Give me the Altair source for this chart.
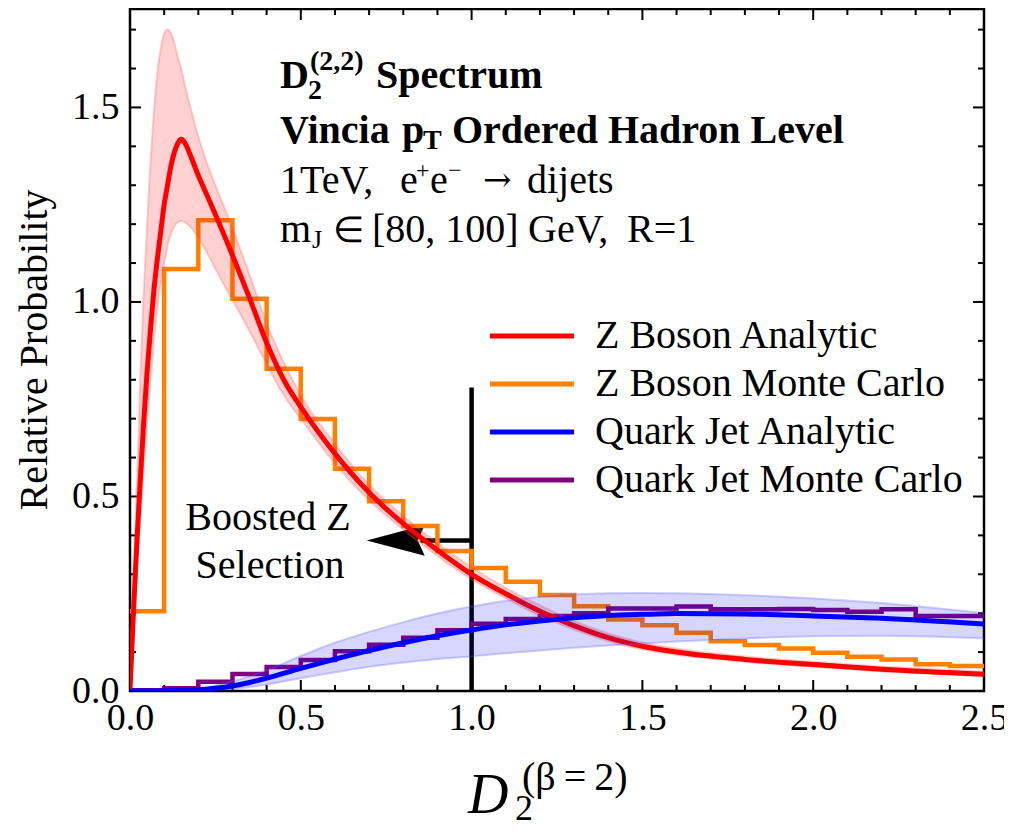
import altair as alt
import pandas as pd

# ---------------- data ----------------
bin_edges = [round(0.1 * i, 1) for i in range(26)]
z_mc = [0.205, 1.085, 1.21, 1.008, 0.828, 0.699, 0.571, 0.488, 0.424, 0.360,
        0.316, 0.281, 0.247, 0.218, 0.184, 0.169, 0.150, 0.128, 0.118, 0.109,
        0.098, 0.088, 0.081, 0.069, 0.064]
q_mc = [0.002, 0.007, 0.024, 0.044, 0.062, 0.080, 0.102, 0.119, 0.137, 0.156,
        0.173, 0.185, 0.193, 0.200, 0.212, 0.212, 0.217, 0.210, 0.210, 0.211,
        0.208, 0.204, 0.210, 0.193, 0.193]

red_x = [0, 0.01, 0.02, 0.03, 0.04, 0.05, 0.06, 0.07, 0.08, 0.09, 0.10, 0.11,
         0.12, 0.13, 0.14, 0.15, 0.16, 0.18, 0.20, 0.22, 0.25, 0.30, 0.35, 0.40,
         0.45, 0.50, 0.60, 0.70, 0.80, 0.90, 1.00, 1.10, 1.20, 1.30, 1.40, 1.50,
         1.60, 1.80, 2.00, 2.20, 2.50]
red_y = [0, 0.20, 0.38, 0.54, 0.69, 0.82, 0.93, 1.03, 1.11, 1.18, 1.25, 1.30,
         1.35, 1.385, 1.408, 1.418, 1.41, 1.37, 1.325, 1.285, 1.225, 1.12, 1.01, 0.895,
         0.80, 0.73, 0.61, 0.51, 0.43, 0.362, 0.30, 0.25, 0.205, 0.168, 0.137, 0.115,
         0.100, 0.081, 0.068, 0.056, 0.043]
red_hi = [0, 0.25, 0.52, 0.80, 1.02, 1.20, 1.36, 1.49, 1.59, 1.65, 1.69, 1.70,
          1.69, 1.665, 1.63, 1.60, 1.56, 1.49, 1.425, 1.37, 1.30, 1.19, 1.07, 0.945,
          0.845, 0.76, 0.635, 0.53, 0.45, 0.38, 0.318, 0.265, 0.22, 0.18, 0.148, 0.125,
          0.109, 0.089, 0.075, 0.063, 0.05]
red_lo = [0, 0.15, 0.30, 0.44, 0.57, 0.69, 0.80, 0.90, 0.98, 1.05, 1.10, 1.145,
          1.175, 1.195, 1.205, 1.208, 1.205, 1.19, 1.165, 1.135, 1.085, 1.005, 0.925, 0.84,
          0.76, 0.70, 0.585, 0.49, 0.415, 0.347, 0.287, 0.238, 0.193, 0.158, 0.128, 0.107,
          0.093, 0.075, 0.062, 0.051, 0.038]

blue_x = [0, 0.1, 0.2, 0.25, 0.3, 0.35, 0.4, 0.5, 0.6, 0.7, 0.8, 0.9, 1.0, 1.1,
          1.2, 1.3, 1.4, 1.5, 1.6, 1.8, 2.0, 2.2, 2.5]
blue_y = [0, 0.0005, 0.003, 0.007, 0.013, 0.022, 0.033, 0.058, 0.082, 0.104, 0.124,
          0.142, 0.157, 0.170, 0.180, 0.188, 0.194, 0.197, 0.199, 0.198, 0.193, 0.187, 0.172]
blue_hi = [0, 0.001, 0.007, 0.014, 0.025, 0.038, 0.053, 0.09, 0.124, 0.152, 0.177,
           0.199, 0.217, 0.232, 0.242, 0.248, 0.251, 0.252, 0.251, 0.246, 0.238, 0.226, 0.2]
blue_lo = [0, 0, 0.0005, 0.002, 0.005, 0.01, 0.017, 0.033, 0.048, 0.062, 0.073,
           0.082, 0.089, 0.097, 0.104, 0.111, 0.117, 0.122, 0.127, 0.135, 0.141, 0.142, 0.135]

x_major = [0.5, 1.0, 1.5, 2.0]
x_minor = [round(0.1 * i, 1) for i in range(1, 25) if i % 5 != 0]
y_major = [0.5, 1.0, 1.5]
y_minor = [round(0.1 * i, 1) for i in range(1, 18) if i % 5 != 0]
x_labels = [0.0, 0.5, 1.0, 1.5, 2.0, 2.5]
y_labels = [0.0, 0.5, 1.0, 1.5]

sel_x = 1.0
sel_top = 0.78
arrow_y = 0.387
arrow_tip = 0.693
arrow_back = 0.85

legend_names = ["Z Boson Analytic", "Z Boson Monte Carlo", "Quark Jet Analytic",
                "Quark Jet Monte Carlo"]
legend_colors = ["#ff0000", "#ff8000", "#0000ff", "#800080"]

# ---------------- chart ----------------
W, H = 854, 682
FONT = "Liberation Serif"
xs = alt.Scale(domain=[0, 2.5], nice=False, zero=False)
ys = alt.Scale(domain=[0, 1.753], nice=False, zero=False)

xaxis = alt.Axis(values=x_labels, format=".1f", ticks=False, tickSize=0,
                 domain=False, grid=False, labelFont=FONT, labelFontSize=38,
                 labelColor="black", labelPadding=8, labelFlush=False,
                 labelOverlap=False)
yaxis = alt.Axis(values=y_labels, format=".1f", ticks=False, tickSize=0,
                 domain=False, grid=False, labelFont=FONT, labelFontSize=38,
                 labelColor="black", labelPadding=11, labelFlush=False,
                 labelOverlap=False)


def X(f):
    return alt.X(f, scale=xs, axis=xaxis, title=None)


def Y(f):
    return alt.Y(f, scale=ys, axis=yaxis, title=None)


def step_df(vals):
    return pd.DataFrame({"x": bin_edges, "y": list(vals) + [vals[-1]]})


layers = []

# ticks (inward, all four sides)
for vals, ln in [(x_major, 11), (x_minor, 6)]:
    d = pd.DataFrame({"v": vals})
    layers.append(alt.Chart(d).mark_rule(color="black", strokeWidth=2).encode(
        x=X("v:Q"), y=alt.value(H), y2=alt.value(H - ln)))
    layers.append(alt.Chart(d).mark_rule(color="black", strokeWidth=2).encode(
        x=X("v:Q"), y=alt.value(0), y2=alt.value(ln)))
for vals, ln in [(y_major, 11), (y_minor, 6)]:
    d = pd.DataFrame({"v": vals})
    layers.append(alt.Chart(d).mark_rule(color="black", strokeWidth=2).encode(
        y=Y("v:Q"), x=alt.value(0), x2=alt.value(ln)))
    layers.append(alt.Chart(d).mark_rule(color="black", strokeWidth=2).encode(
        y=Y("v:Q"), x=alt.value(W), x2=alt.value(W - ln)))

# selection line and arrow
sel_df = pd.DataFrame({"x": [sel_x], "y0": [0.0], "y1": [sel_top]})
layers.append(alt.Chart(sel_df).mark_rule(color="black", strokeWidth=4.5).encode(
    x=X("x:Q"), y=Y("y0:Q"), y2="y1:Q"))
shaft_df = pd.DataFrame({"x0": [arrow_back], "x1": [sel_x], "y": [arrow_y]})
layers.append(alt.Chart(shaft_df).mark_rule(color="black", strokeWidth=4.5).encode(
    x=X("x0:Q"), x2="x1:Q", y=Y("y:Q")))
head_df = pd.DataFrame({"x": [arrow_tip], "y": [arrow_y]})
layers.append(alt.Chart(head_df).mark_point(
    shape="M 0 0 L 2 -0.53 L 1.76 0 L 2 0.53 Z", size=3364, filled=True,
    color="black", opacity=1, strokeWidth=0).encode(x=X("x:Q"), y=Y("y:Q")))

# histograms
for vals, col in [(z_mc, "#ff8000"), (q_mc, "#800080")]:
    layers.append(alt.Chart(step_df(vals)).mark_line(
        color=col, strokeWidth=4.5, interpolate="step-after", clip=True).encode(
        x=X("x:Q"), y=Y("y:Q")))

# red band + line
red_df = pd.DataFrame({"x": red_x, "y": red_y, "lo": red_lo, "hi": red_hi})
layers.append(alt.Chart(red_df).mark_area(color="#ff0000", opacity=0.18,
                                          interpolate="monotone", clip=True).encode(
    x=X("x:Q"), y=Y("lo:Q"), y2="hi:Q"))
for f in ["lo", "hi"]:
    layers.append(alt.Chart(red_df).mark_line(color="#ff6060", opacity=0.3, strokeWidth=2,
                                              interpolate="monotone", clip=True).encode(
        x=X("x:Q"), y=Y(f + ":Q")))
layers.append(alt.Chart(red_df).mark_line(color="#ff0000", strokeWidth=5,
                                          interpolate="monotone", clip=True).encode(
    x=X("x:Q"), y=Y("y:Q")))

# blue band + line
blue_df = pd.DataFrame({"x": blue_x, "y": blue_y, "lo": blue_lo, "hi": blue_hi})
layers.append(alt.Chart(blue_df).mark_area(color="#0000ff", opacity=0.16,
                                           interpolate="monotone", clip=True).encode(
    x=X("x:Q"), y=Y("lo:Q"), y2="hi:Q"))
for f in ["lo", "hi"]:
    layers.append(alt.Chart(blue_df).mark_line(color="#6060ff", opacity=0.3, strokeWidth=2,
                                               interpolate="monotone", clip=True).encode(
        x=X("x:Q"), y=Y(f + ":Q")))
layers.append(alt.Chart(blue_df).mark_line(color="#0000ff", strokeWidth=5,
                                           interpolate="monotone", clip=True).encode(
    x=X("x:Q"), y=Y("y:Q")))

one = pd.DataFrame({"a": [0]})


def txt(s, x, y, size=40, bold=False, italic=False, align="left", baseline="alphabetic",
        angle=0, font=FONT):
    kw = dict(font=font, fontSize=size, color="black", align=align, baseline=baseline)
    if bold:
        kw["fontWeight"] = "bold"
    if italic:
        kw["fontStyle"] = "italic"
    if angle:
        kw["angle"] = angle
    return alt.Chart(one).mark_text(**kw).encode(
        x=alt.value(x), y=alt.value(y), text=alt.value(s))


# legend
for i, (name, col) in enumerate(zip(legend_names, legend_colors)):
    ry = 327 + 48 * i
    layers.append(alt.Chart(one).mark_rule(color=col, strokeWidth=5).encode(
        x=alt.value(360), x2=alt.value(444), y=alt.value(ry)))
    layers.append(txt(name, 465, ry, size=40, baseline="middle"))

# annotation block
layers += [
    txt("D", 150, 79, bold=True),
    txt("2", 178, 90, size=28, bold=True),
    txt("(2,2)", 180, 61, size=28, bold=True),
    txt("Spectrum", 246, 79, bold=True),
    txt("Vincia", 150, 134, bold=True),
    txt("p", 272, 134, bold=True),
    txt("T", 293, 140, size=28, bold=True),
    txt("Ordered Hadron Level", 322, 134, bold=True),
    txt("1TeV,", 150, 184),
    txt("e", 270, 184),
    txt("+", 286, 169, size=24),
    txt("e", 300, 184),
    txt("\u2212", 318, 169, size=24),
    txt("\u2192", 353, 182, size=34, font="DejaVu Serif"),
    txt("dijets", 397, 184),
    txt("m", 150, 233),
    txt("J", 182, 239, size=26),
    txt("\u2208", 203, 233, size=36),
    txt("[80, 100]", 242, 233),
    txt("GeV,", 398, 233),
    txt("R=1", 497, 233),
    txt("Boosted Z", 138, 521, align="center"),
    txt("Selection", 140, 569, align="center"),
    txt("Relative Probability", -95, 341, size=40, align="center", baseline="middle",
        angle=270),
    txt("D", 338, 804, size=56, italic=True),
    txt("2", 385, 811, size=36),
    txt("(\u03b2\u2009=\u20092)", 392, 781, size=40),
]

chart = alt.layer(*layers).properties(
    width=W, height=H,
    autosize=alt.AutoSizeParams(type="none"),
    padding={"left": 122, "top": 1, "right": 20, "bottom": 133},
).configure_view(stroke="black", strokeWidth=2.5)

chart.save("out.html", embed_options={"renderer": "svg", "actions": False})
